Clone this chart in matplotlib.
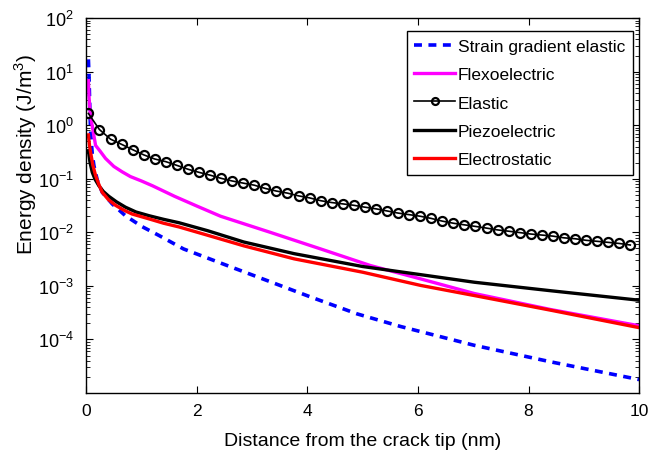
import numpy as np
import matplotlib
matplotlib.use("Agg")
import matplotlib.pyplot as plt
from matplotlib.ticker import LogLocator, NullFormatter

plt.rcParams['font.family'] = ['Liberation Sans', 'DejaVu Sans']
plt.rcParams['mathtext.fontset'] = 'custom'
plt.rcParams['mathtext.rm'] = 'Liberation Sans'

# Strain gradient elastic (blue dashed)
x_sg = [0.04, 0.05, 0.065, 0.08, 0.11, 0.14, 0.2, 0.29, 0.47, 0.71, 1.01, 1.32, 1.76,
        2.55, 3.27, 4.06, 4.9, 5.69, 7.02, 8.41, 10]
y_sg = [17, 8.9, 2.2, 0.74, 0.29, 0.176, 0.095, 0.056, 0.034, 0.0204, 0.0128, 0.0087,
        0.0049, 0.0024, 0.00126, 0.00062, 0.0003, 0.000174, 0.0000776, 0.000038, 0.0000178]

# Flexoelectric (magenta)
x_flexo = [0.04, 0.05, 0.07, 0.1, 0.17, 0.25, 0.35, 0.5, 0.65, 0.8, 1.0, 1.2, 1.6, 2.0,
           2.43, 3.33, 4.24, 5.14, 6.05, 7.02, 8.41, 10]
y_flexo = [6.8, 3.5, 1.8, 1.1, 0.42, 0.33, 0.24, 0.17, 0.135, 0.11, 0.091, 0.074, 0.047,
           0.031, 0.020, 0.010, 0.0049, 0.0024, 0.00135, 0.00072, 0.00036, 0.00018]

# Elastic (black with circles)
x_el = [0.04 + 0.2 * k for k in range(50)]
y_el = [1.66, 0.83, 0.55, 0.44, 0.35, 0.28, 0.234, 0.209, 0.178, 0.151,
        0.132, 0.117, 0.102, 0.091, 0.083, 0.076, 0.066, 0.059, 0.054, 0.048,
        0.044, 0.039, 0.036, 0.034, 0.032, 0.0295, 0.0275, 0.0251, 0.0229, 0.0214,
        0.020, 0.0182, 0.0162, 0.0148, 0.0138, 0.0129, 0.0120, 0.0111, 0.0105, 0.0099,
        0.0093, 0.0089, 0.0085, 0.0079, 0.0076, 0.0071, 0.0068, 0.0065, 0.0062, 0.0058]

# Piezoelectric (black)
x_piezo = [0.04, 0.07, 0.11, 0.16, 0.23, 0.31, 0.41, 0.55, 0.71, 0.9, 1.14, 1.4, 1.68,
           2.2, 2.85, 3.76, 5.0, 6.05, 7.02, 8.41, 10]
y_piezo = [0.335, 0.2, 0.132, 0.098, 0.074, 0.058, 0.047, 0.037, 0.0295, 0.024, 0.0204,
           0.0175, 0.0151, 0.0107, 0.0066, 0.0040, 0.0023, 0.00162, 0.00117, 0.00081, 0.00054]

# Electrostatic (red)
x_es = [0.04, 0.06, 0.08, 0.12, 0.17, 0.23, 0.29, 0.4, 0.53, 0.68, 0.83, 1.14, 1.4, 1.68,
        2.2, 2.85, 3.76, 5.0, 6.05, 7.02, 8.41, 10]
y_es = [0.66, 0.42, 0.31, 0.18, 0.115, 0.078, 0.056, 0.041, 0.032, 0.026, 0.022, 0.0178,
        0.0148, 0.0126, 0.0088, 0.0056, 0.0032, 0.0018, 0.00102, 0.00066, 0.00035, 0.000166]

fig = plt.figure(figsize=(6.63, 4.56), dpi=100)
ax = fig.add_axes([0.130, 0.136, 0.834, 0.822])

ax.plot(x_sg, y_sg, color='#0000ff', lw=2.6, ls=(0, (2.2, 1.8)), label='Strain gradient elastic')
ax.plot(x_flexo, y_flexo, color='#ff00ff', lw=2.4, label='Flexoelectric')
ax.plot(x_el, y_el, color='k', lw=1.2, marker='o', ms=6.5, mfc='none', mew=1.6, label='Elastic')
ax.plot(x_piezo, y_piezo, color='k', lw=2.4, label='Piezoelectric')
ax.plot(x_es, y_es, color='#ff0000', lw=2.4, label='Electrostatic')

ax.set_yscale('log')
ax.set_xlim(0, 10)
ax.set_ylim(1e-5, 1e2)
ax.set_xticks([0, 2, 4, 6, 8, 10])
ax.set_yticks([1e-4, 1e-3, 1e-2, 1e-1, 1e0, 1e1, 1e2])
ax.yaxis.set_minor_locator(LogLocator(base=10, subs=np.arange(2, 10), numticks=20))
ax.yaxis.set_minor_formatter(NullFormatter())
ax.tick_params(which='both', direction='in', top=True, right=True, labelsize=12.5)
ax.tick_params(axis='x', pad=7)
ax.tick_params(axis='y', pad=9, labelsize=13)
ax.tick_params(which='major', length=5)
ax.tick_params(which='minor', length=3)
for s in ax.spines.values():
    s.set_linewidth(1.0)

ax.set_xlabel('Distance from the crack tip (nm)', fontsize=14, labelpad=10)
ax.set_ylabel('Energy density (J/m$^3$)', fontsize=15)
ax.yaxis.set_label_coords(-0.085, 0.64)

leg = ax.legend(loc='upper right', fontsize=12.5, fancybox=False, framealpha=1,
                edgecolor='k', handlelength=2.35, handletextpad=0.15, borderpad=0.45,
                labelspacing=0.76, borderaxespad=0, bbox_to_anchor=(0.989, 0.966))
leg.get_frame().set_linewidth(1.0)
for h in leg.legend_handles:
    if h.get_marker() == 'o':
        h.set_markersize(5)

fig.savefig('out.png', dpi=100)
